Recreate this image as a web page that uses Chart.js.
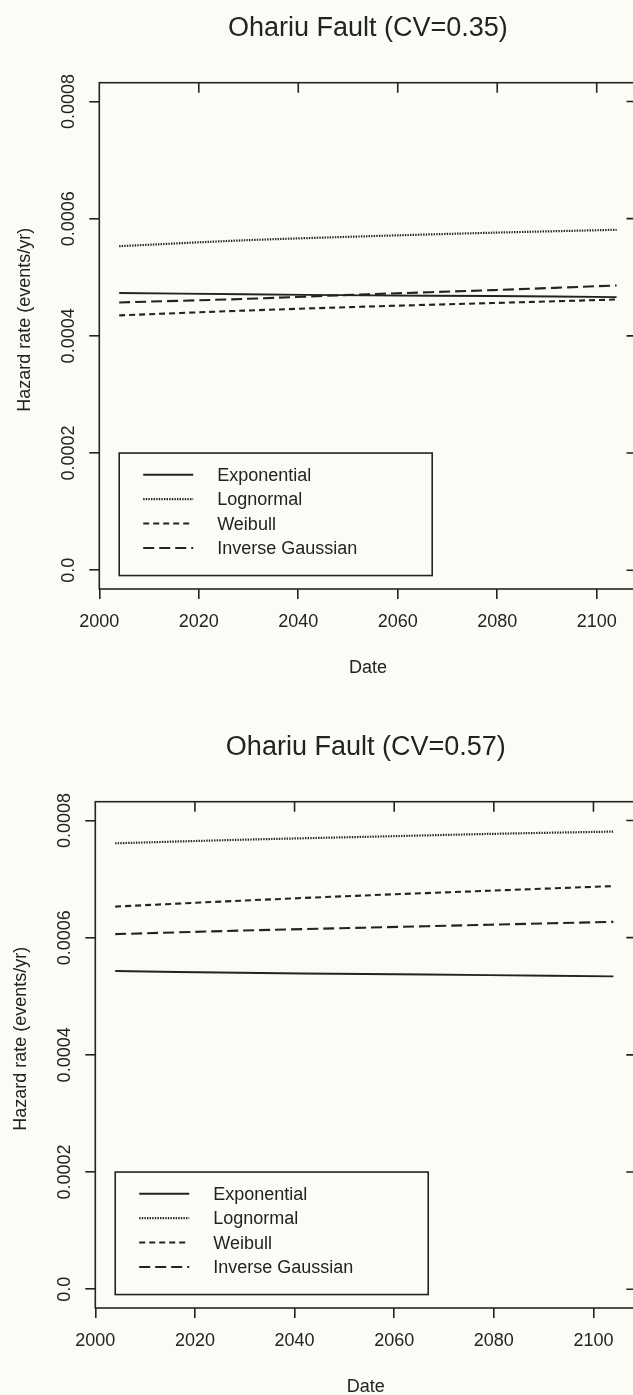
<!DOCTYPE html>
<html>
<head>
<meta charset="utf-8">
<script src="https://cdn.jsdelivr.net/npm/chart.js@4.4.0/dist/chart.umd.min.js"></script>
<style>
  html, body { margin: 0; padding: 0; width: 633px; height: 1395px; overflow: hidden; background: #fcfbf5; }
  canvas { position: absolute; }
  #chartTop { left: 0; top: 0; }
  #chartBottom { left: -4.5px; top: 719px; }
</style>
</head>
<body>
<canvas id="chartTop" width="650" height="719"></canvas>
<canvas id="chartBottom" width="650" height="719"></canvas>
<script>
// data
const years = [2004, 2029, 2054, 2079, 2104];
const seriesNames = ["Exponential", "Lognormal", "Weibull", "Inverse Gaussian"];

// CV = 0.35
const exponential35 = [0.000473, 0.000471, 0.000469, 0.000468, 0.000466];
const lognormal35 = [0.000553, 0.000563, 0.000570, 0.000576, 0.000581];
const weibull35 = [0.000435, 0.000443, 0.000450, 0.000456, 0.000462];
const invGaussian35 = [0.000457, 0.000463, 0.000471, 0.000478, 0.000486];

// CV = 0.57
const exponential57 = [0.000543, 0.000540, 0.000538, 0.000536, 0.000534];
const lognormal57 = [0.000761, 0.000767, 0.000772, 0.000777, 0.000781];
const weibull57 = [0.000653, 0.000663, 0.000672, 0.000680, 0.000688];
const invGaussian57 = [0.000606, 0.000612, 0.000617, 0.000622, 0.000627];

const xTicks = [2000, 2020, 2040, 2060, 2080, 2100];
const yTicks = [0, 0.0002, 0.0004, 0.0006, 0.0008];
const yTickLabels = ["0.0", "0.0002", "0.0004", "0.0006", "0.0008"];

const ink = "#232323";
const bg = "#fcfbf5";
const fontFamily = "'Liberation Sans', Arial, Helvetica, sans-serif";
const dashes = [[], [1.4, 1.2], [6, 4], [11, 5]];
const widths = [1.9, 2.2, 2.1, 2.1];

// frame, inward ticks, rotated y labels and legend box (S-Plus style)
const framePlugin = {
    id: "framePlugin",
    afterDraw(chart) {
        const ctx = chart.ctx;
        const a = chart.chartArea;
        const xs = chart.scales.x;
        const ys = chart.scales.y;
        ctx.save();
        ctx.strokeStyle = ink;
        ctx.lineWidth = 1.6;
        ctx.setLineDash([]);
        ctx.strokeRect(a.left, a.top, a.right - a.left, a.bottom - a.top);

        // inward ticks on top and right
        ctx.beginPath();
        xTicks.slice(1).forEach(v => {
            const px = xs.getPixelForValue(v);
            ctx.moveTo(px, a.top);
            ctx.lineTo(px, a.top + 10);
        });
        yTicks.forEach(v => {
            const py = ys.getPixelForValue(v);
            ctx.moveTo(a.right - 10, py);
            ctx.lineTo(a.right, py);
        });
        ctx.stroke();

        // y tick labels, rotated
        ctx.fillStyle = ink;
        ctx.font = "18px " + fontFamily;
        ctx.textAlign = "center";
        ctx.textBaseline = "middle";
        yTicks.forEach((v, i) => {
            const py = ys.getPixelForValue(v);
            ctx.save();
            ctx.translate(a.left - 30, py);
            ctx.rotate(-Math.PI / 2);
            ctx.fillText(yTickLabels[i], 0, 0);
            ctx.restore();
        });

        // y axis title
        ctx.save();
        ctx.translate(25, a.top + 237);
        ctx.rotate(-Math.PI / 2);
        ctx.font = "18px " + fontFamily;
        ctx.fillText("Hazard rate (events/yr)", 0, 0);
        ctx.restore();

        // legend
        const lx = xs.getPixelForValue(2004);
        const ly = ys.getPixelForValue(0.0002);
        const lw = 313, lh = 122.5;
        ctx.fillStyle = bg;
        ctx.fillRect(lx, ly, lw, lh);
        ctx.strokeRect(lx, ly, lw, lh);
        ctx.fillStyle = ink;
        ctx.textAlign = "left";
        ctx.font = "18px " + fontFamily;
        chart.data.datasets.forEach((ds, i) => {
            const ry = ly + 21.7 + i * 24.4;
            ctx.beginPath();
            ctx.setLineDash(ds.borderDash);
            ctx.lineWidth = ds.borderWidth;
            ctx.moveTo(lx + 24, ry);
            ctx.lineTo(lx + 74, ry);
            ctx.stroke();
            ctx.setLineDash([]);
            ctx.fillText(ds.label, lx + 98, ry + 1);
        });
        ctx.restore();
    }
};

function makeChart(id, title, series, xMax, padRight) {
    const ctx = document.getElementById(id).getContext("2d");
    return new Chart(ctx, {
        type: "line",
        data: {
            datasets: series.map((vals, i) => ({
                label: seriesNames[i],
                data: years.map((yr, j) => ({ x: yr, y: vals[j] })),
                borderColor: ink,
                borderWidth: widths[i],
                borderDash: dashes[i],
                pointRadius: 0,
                fill: false,
                tension: 0.3
            }))
        },
        options: {
            responsive: false,
            animation: false,
            layout: { padding: { left: 89.3, right: padRight, top: 0, bottom: 40.5 } },
            plugins: {
                legend: { display: false },
                tooltip: { enabled: false },
                title: {
                    display: true,
                    text: title,
                    fullSize: false,
                    color: ink,
                    font: { family: fontFamily, size: 27, weight: "normal" },
                    padding: { top: 12, bottom: 38.3 }
                }
            },
            scales: {
                x: {
                    type: "linear",
                    min: 2000,
                    max: xMax,
                    afterBuildTicks: axis => { axis.ticks = xTicks.map(v => ({ value: v })); },
                    border: { display: false },
                    grid: { drawOnChartArea: false, tickLength: 10, color: ink, lineWidth: 1.6 },
                    ticks: {
                        color: ink,
                        padding: 12.4,
                        maxRotation: 0,
                        autoSkip: false,
                        font: { family: fontFamily, size: 18 },
                        callback: v => String(v)
                    },
                    title: {
                        display: true,
                        text: "Date",
                        color: ink,
                        font: { family: fontFamily, size: 18 },
                        padding: { top: 11.5, bottom: 0 }
                    }
                },
                y: {
                    type: "linear",
                    min: -0.000032,
                    max: 0.000832,
                    afterBuildTicks: axis => { axis.ticks = yTicks.map(v => ({ value: v })); },
                    border: { display: false },
                    grid: { drawOnChartArea: false, tickLength: 10, color: ink, lineWidth: 1.6 },
                    ticks: { display: false }
                }
            }
        },
        plugins: [framePlugin]
    });
}

makeChart("chartTop", "Ohariu Fault (CV=0.35)",
    [exponential35, lognormal35, weibull35, invGaussian35], 2108, 13.5);
makeChart("chartBottom", "Ohariu Fault (CV=0.57)",
    [exponential57, lognormal57, weibull57, invGaussian57], 2108.6, 9.7);
</script>
</body>
</html>
